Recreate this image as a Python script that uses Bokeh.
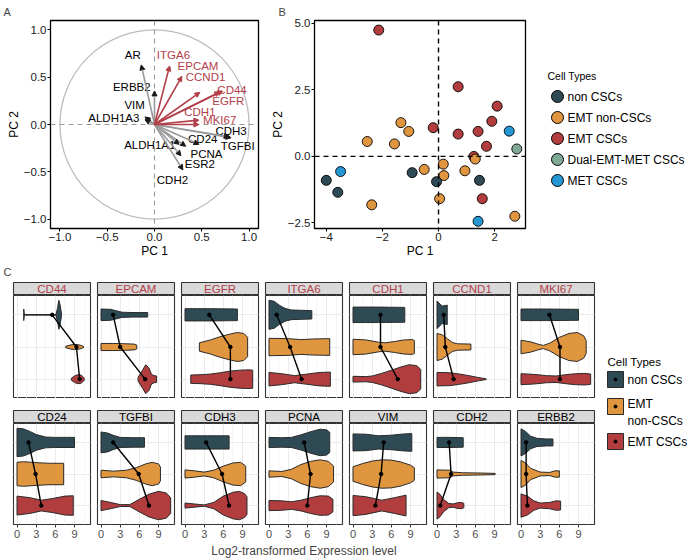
from bokeh.plotting import figure
from bokeh.layouts import row, column
from bokeh.models import (Range1d, FixedTicker, Span, Arrow, NormalHead, ColumnDataSource,
                          Label, Spacer, Grid, CustomJSTickFormatter)
from bokeh.embed import file_html
from bokeh.resources import INLINE
from bokeh.core.properties import value

FONT = "Liberation Sans"
RED_TEXT = "#B2404A"
GRAY_ARROW = "#9A9A9A"

# ---------------- Panel A: PCA loadings ----------------
LOAD_GENES = ["AR", "ERBB2", "VIM", "ALDH1A3", "ITGA6", "EPCAM", "CCND1", "CD44", "EGFR",
              "CDH1", "MKI67", "CDH3", "TGFBI", "CD24", "PCNA", "ALDH1A1", "ESR2", "CDH2"]
LOAD_PC1 = [-0.14, 0.00, -0.10, -0.10, 0.16, 0.29, 0.48, 0.72, 0.69,
            0.47, 0.47, 0.81, 0.79, 0.47, 0.33, 0.26, 0.28, 0.30]
LOAD_PC2 = [0.63, 0.355, 0.08, 0.05, 0.62, 0.51, 0.34, 0.355, 0.345,
            0.046, 0.0, -0.14, -0.13, -0.21, -0.23, -0.21, -0.33, -0.48]
LABEL_PC1 = [-0.23, -0.24, -0.21, -0.43, 0.20, 0.46, 0.54, 0.82, 0.78,
             0.48, 0.69, 0.81, 0.88, 0.51, 0.55, -0.05, 0.48, 0.19]
LABEL_PC2 = [0.73, 0.40, 0.21, 0.067, 0.73, 0.62, 0.50, 0.37, 0.25,
             0.13, 0.046, -0.067, -0.23, -0.15, -0.31, -0.22, -0.42, -0.59]
EMT_MARKERS = ["ITGA6", "EPCAM", "CCND1", "CD44", "EGFR", "CDH1", "MKI67"]
CIRCLE_RADIUS = 1.0

# ---------------- Panel B: PCA scores ----------------
CELL_TYPES = ["non CSCs", "EMT non-CSCs", "EMT CSCs", "Dual-EMT-MET CSCs", "MET CSCs"]
CELL_COLORS = ["#2E4A54", "#E0953F", "#B23D3E", "#7FA994", "#2697D5"]
SAMPLE_TYPE = (["EMT CSCs"] * 10 + ["EMT non-CSCs"] * 12 + ["non CSCs"] * 5
               + ["MET CSCs"] * 3 + ["Dual-EMT-MET CSCs"])
SAMPLE_PC1 = [-2.13, 0.70, -0.19, 0.70, 1.41, 2.09, 1.90, 1.71, 1.26, 1.56,
              -1.34, -1.06, -2.54, -1.57, -0.51, 0.17, 0.19, 0.04, 0.94, 1.31, -2.38, 2.72,
              -4.00, -3.59, -0.94, -0.07, 1.46,
              -3.49, 2.52, 1.41,
              2.79]
SAMPLE_PC2 = [4.75, 2.62, 1.08, 0.84, 0.94, 1.89, 1.32, 0.38, 0.00, -1.59,
              1.27, 0.94, 0.56, 0.47, -0.49, -0.29, -0.72, -1.59, -0.54, -0.10, -1.82, -2.25,
              -0.90, -1.35, -0.61, -0.95, -0.90,
              -0.57, 0.95, -2.44,
              0.28]

# ---------------- Panel C: violins ----------------
GROUPS = ["non CSCs", "EMT non-CSCs", "EMT CSCs"]
GROUP_LABELS = ["non CSCs", "EMT\nnon-CSCs", "EMT CSCs"]
GROUP_COLORS = ["#2E4A54", "#E0953F", "#B23D3E"]
GROUP_LEVEL = [3, 2, 1]
GENES_TOP = ["CD44", "EPCAM", "EGFR", "ITGA6", "CDH1", "CCND1", "MKI67"]
GENES_BOTTOM = ["CD24", "TGFBI", "CDH3", "PCNA", "VIM", "CDH2", "ERBB2"]
X_TICKS = [0, 3, 6, 9]
X_MINOR = [1.5, 4.5, 7.5, 10.5]

# (expression values, half widths)
VIOLIN_CD44 = {
    "non CSCs": ([1.05, 1.15, 6.1, 6.35, 6.55, 6.75, 6.95], [0.18, 0.01, 0.01, 0.22, 0.45, 0.30, 0.05]),
    "EMT non-CSCs": ([7.6, 8.3, 9.0, 9.6, 10.0, 10.4], [0.02, 0.06, 0.08, 0.07, 0.05, 0.02]),
    "EMT CSCs": ([8.5, 9.0, 9.5, 10.0, 10.3, 10.5], [0.03, 0.10, 0.14, 0.13, 0.08, 0.04]),
}
VIOLIN_EPCAM = {
    "non CSCs": ([0, 1.5, 2.5, 3.3, 5.0, 7.3], [0.18, 0.17, 0.12, 0.08, 0.07, 0.07]),
    "EMT non-CSCs": ([0, 2.0, 4.0, 5.2, 5.6], [0.11, 0.11, 0.10, 0.09, 0.06]),
    "EMT CSCs": ([5.8, 6.5, 7.0, 7.5, 7.9, 8.3, 8.7], [0.06, 0.28, 0.45, 0.35, 0.15, 0.11, 0.10]),
}
VIOLIN_EGFR = {
    "non CSCs": ([0, 4.0, 8.2], [0.19, 0.19, 0.18]),
    "EMT non-CSCs": ([2.25, 4.0, 5.5, 7.0, 8.2, 9.2, 9.8], [0.13, 0.22, 0.32, 0.40, 0.45, 0.42, 0.30]),
    "EMT CSCs": ([0.9, 2.5, 4.0, 5.5, 7.0, 8.5, 10.0, 10.6], [0.13, 0.14, 0.16, 0.20, 0.25, 0.28, 0.29, 0.28]),
}
VIOLIN_ITGA6 = {
    "non CSCs": ([0, 0.8, 1.6, 2.5, 3.5, 5.0, 6.7], [0.45, 0.42, 0.30, 0.20, 0.15, 0.14, 0.13]),
    "EMT non-CSCs": ([0, 3.0, 5.0, 7.0, 9.5], [0.27, 0.26, 0.23, 0.25, 0.26]),
    "EMT CSCs": ([0, 2.0, 4.0, 6.0, 8.0, 9.6], [0.21, 0.17, 0.11, 0.16, 0.21, 0.22]),
}
VIOLIN_CDH1 = {
    "non CSCs": ([0, 4.0, 8.1], [0.24, 0.24, 0.23]),
    "EMT non-CSCs": ([0, 2.0, 4.0, 5.0, 6.5, 8.0, 9.3, 9.6], [0.24, 0.22, 0.15, 0.13, 0.17, 0.22, 0.23, 0.20]),
    "EMT CSCs": ([0, 2.0, 3.0, 4.5, 6.0, 7.5, 8.8, 10.0, 10.6], [0.09, 0.08, 0.10, 0.18, 0.28, 0.38, 0.45, 0.42, 0.30]),
}
VIOLIN_CCND1 = {
    "non CSCs": ([0, 0.8, 1.6], [0.43, 0.27, 0.30]),
    "EMT non-CSCs": ([0, 0.8, 1.6, 2.4, 3.2, 5.3], [0.42, 0.38, 0.26, 0.14, 0.10, 0.09]),
    "EMT CSCs": ([0, 2.0, 3.5, 5.0, 6.5, 7.7], [0.21, 0.20, 0.16, 0.11, 0.05, 0.01]),
}
VIOLIN_MKI67 = {
    "non CSCs": ([0, 4.0, 9.0], [0.18, 0.18, 0.17]),
    "EMT non-CSCs": ([0, 1.5, 2.8, 3.5, 4.5, 6.0, 7.5, 8.8, 9.8, 10.2],
                     [0.21, 0.16, 0.08, 0.05, 0.12, 0.30, 0.42, 0.45, 0.35, 0.20]),
    "EMT CSCs": ([0, 2.0, 4.0, 5.5, 7.0, 8.5, 10.0, 10.9], [0.17, 0.15, 0.11, 0.10, 0.14, 0.17, 0.18, 0.16]),
}
VIOLIN_CD24 = {
    "non CSCs": ([0, 1.0, 2.0, 3.0, 4.5, 6.0, 9.0], [0.45, 0.43, 0.35, 0.25, 0.17, 0.16, 0.16]),
    "EMT non-CSCs": ([0, 1.0, 3.0, 5.0, 7.3], [0.37, 0.39, 0.36, 0.34, 0.34]),
    "EMT CSCs": ([0, 2.0, 3.8, 5.5, 7.5, 8.8], [0.30, 0.25, 0.17, 0.22, 0.30, 0.31]),
}
VIOLIN_TGFBI = {
    "non CSCs": ([0, 1.0, 2.0, 3.0, 5.0, 6.8], [0.33, 0.30, 0.22, 0.16, 0.15, 0.15]),
    "EMT non-CSCs": ([0, 2.0, 4.0, 5.5, 7.0, 8.0, 9.0, 9.3], [0.12, 0.09, 0.12, 0.20, 0.32, 0.37, 0.32, 0.22]),
    "EMT CSCs": ([0, 1.5, 3.0, 4.5, 6.0, 7.5, 9.0, 10.2, 10.9], [0.16, 0.10, 0.03, 0.03, 0.20, 0.36, 0.45, 0.40, 0.25]),
}
VIOLIN_CDH3 = {
    "non CSCs": ([0, 3.5, 6.9], [0.21, 0.21, 0.21]),
    "EMT non-CSCs": ([0, 1.5, 3.0, 4.5, 6.0, 7.5, 8.7, 9.5], [0.13, 0.10, 0.06, 0.12, 0.25, 0.35, 0.37, 0.25]),
    "EMT CSCs": ([0, 1.5, 3.0, 4.5, 6.0, 7.5, 8.5, 9.3, 9.7], [0.08, 0.05, 0.02, 0.10, 0.30, 0.42, 0.45, 0.38, 0.28]),
}
VIOLIN_PCNA = {
    "non CSCs": ([0, 2.0, 3.5, 5.0, 6.5, 8.0, 9.0, 9.5], [0.16, 0.15, 0.16, 0.24, 0.34, 0.42, 0.40, 0.32]),
    "EMT non-CSCs": ([0, 2.0, 3.5, 5.0, 6.5, 8.0, 9.3, 10.1], [0.10, 0.08, 0.15, 0.30, 0.40, 0.45, 0.40, 0.25]),
    "EMT CSCs": ([0, 2.0, 3.5, 5.0, 6.5, 8.0, 9.3, 10.0], [0.16, 0.15, 0.12, 0.17, 0.25, 0.31, 0.30, 0.20]),
}
VIOLIN_VIM = {
    "non CSCs": ([0, 2.0, 4.0, 6.0, 8.0, 9.2], [0.27, 0.26, 0.21, 0.23, 0.27, 0.28]),
    "EMT non-CSCs": ([0, 1.5, 3.0, 4.5, 6.0, 7.5, 9.0, 9.6], [0.23, 0.33, 0.41, 0.45, 0.44, 0.38, 0.28, 0.20]),
    "EMT CSCs": ([0, 2.0, 4.5, 6.5, 8.3], [0.32, 0.28, 0.17, 0.25, 0.33]),
}
VIOLIN_CDH2 = {
    "non CSCs": ([0, 2.0, 4.1], [0.16, 0.16, 0.15]),
    "EMT non-CSCs": ([0, 2.0, 2.5, 4.0, 7.0, 9.1], [0.13, 0.12, 0.06, 0.04, 0.03, 0.02]),
    "EMT CSCs": ([0, 0.5, 1.0, 1.8, 2.5, 3.2, 3.8, 4.2], [0.43, 0.35, 0.20, 0.07, 0.05, 0.09, 0.10, 0.07]),
}
VIOLIN_ERBB2 = {
    "non CSCs": ([0, 0.7, 1.5, 2.5, 4.0, 5.0], [0.43, 0.35, 0.20, 0.13, 0.11, 0.11]),
    "EMT non-CSCs": ([0, 0.7, 1.5, 3.0, 4.5, 5.3, 6.0], [0.43, 0.35, 0.18, 0.06, 0.05, 0.10, 0.10]),
    "EMT CSCs": ([0, 1.0, 2.0, 3.0, 4.5, 5.5, 6.2], [0.37, 0.30, 0.15, 0.08, 0.10, 0.15, 0.14]),
}
VIOLINS = {"CD44": VIOLIN_CD44, "EPCAM": VIOLIN_EPCAM, "EGFR": VIOLIN_EGFR, "ITGA6": VIOLIN_ITGA6,
           "CDH1": VIOLIN_CDH1, "CCND1": VIOLIN_CCND1, "MKI67": VIOLIN_MKI67, "CD24": VIOLIN_CD24,
           "TGFBI": VIOLIN_TGFBI, "CDH3": VIOLIN_CDH3, "PCNA": VIOLIN_PCNA, "VIM": VIOLIN_VIM,
           "CDH2": VIOLIN_CDH2, "ERBB2": VIOLIN_ERBB2}

GENES_C = GENES_TOP + GENES_BOTTOM
MEAN_NON_CSC = [5.5, 1.9, 3.8, 1.2, 4.3, 1.05, 4.45, 1.8, 1.9, 3.3, 5.5, 4.8, 1.9, 0.8]
MEAN_EMT_NON_CSC = [9.3, 3.0, 7.1, 3.3, 4.3, 1.3, 6.1, 2.9, 5.9, 5.8, 6.5, 4.4, 2.2, 0.8]
MEAN_EMT_CSC = [9.8, 6.9, 7.1, 5.1, 7.0, 2.6, 6.1, 3.8, 7.5, 6.9, 6.0, 3.5, 0.5, 1.0]

# ---------------- layout constants (pixels) ----------------
PAGE_W = 688
TOP_BT, TOP_FRAME, TOP_BB = 20, 208, 34
TOP_H = TOP_BT + TOP_FRAME + TOP_BB
A_W, B_W = 266, 267
C_H = 19
FACET_W, FIRST_EXTRA = 84, 8
STRIP_H = 14
PANEL1_H = 103
GAP_H = 11
PANEL2_H = 101
AXIS_H = 18
XT_H = 16


def new_fig(**kw):
    return figure(output_backend="svg", toolbar_location=None, **kw)


def blank(p):
    p.grid.visible = False
    p.outline_line_color = None


def style_axis(ax, label, ndigits):
    ax.axis_label = label
    ax.axis_label_text_font = FONT
    ax.axis_label_text_font_size = "12px"
    ax.axis_label_text_font_style = "normal"
    ax.axis_label_text_color = "black"
    ax.axis_label_standoff = 0
    ax.major_label_text_font = FONT
    ax.major_label_text_font_size = "11.5px"
    ax.major_label_text_color = "#1A1A1A"
    ax.major_label_standoff = 1
    ax.major_tick_out = 3
    ax.major_tick_in = 0
    ax.minor_tick_out = 0
    ax.minor_tick_in = 0
    ax.axis_line_color = None
    ax.major_tick_line_color = "black"
    ax.formatter = CustomJSTickFormatter(
        code="return tick.toFixed(%d).replace('-', '\\u2212');" % ndigits)


def panel_title(p, text, offset):
    p.title.text = text
    p.title.text_font = FONT
    p.title.text_font_size = "11px"
    p.title.text_font_style = "normal"
    p.title.align = "left"
    p.title.offset = offset
    p.title.standoff = 5


# ---------------- Panel A ----------------
pA = new_fig(width=A_W, height=TOP_H, x_range=Range1d(-1.1, 1.1), y_range=Range1d(-1.1, 1.1),
             min_border_left=50, min_border_right=8, min_border_top=TOP_BT, min_border_bottom=TOP_BB)
panel_title(pA, "A", -47)
pA.grid.visible = False
pA.outline_line_color = "black"
pA.outline_line_width = 1.3
style_axis(pA.xaxis[0], "PC 1", 1)
style_axis(pA.yaxis[0], "PC 2", 1)
pA.xaxis.ticker = FixedTicker(ticks=[-1, -0.5, 0, 0.5, 1])
pA.yaxis.ticker = FixedTicker(ticks=[-1, -0.5, 0, 0.5, 1])
pA.ellipse(x=[0], y=[0], width=[2 * CIRCLE_RADIUS], height=[2 * CIRCLE_RADIUS],
           fill_color=None, line_color="#BDBDBD", line_width=1.3)
pA.add_layout(Span(location=0, dimension="height", line_color="#9A9A9A", line_dash="5 4", line_width=1.1))
pA.add_layout(Span(location=0, dimension="width", line_color="#9A9A9A", line_dash="5 4", line_width=1.1))

is_red = [g in EMT_MARKERS for g in LOAD_GENES]
for red in (False, True):
    idx = [i for i, r in enumerate(is_red) if r == red]
    src = ColumnDataSource(dict(
        x=[LOAD_PC1[i] for i in idx], y=[LOAD_PC2[i] for i in idx],
        lx=[LABEL_PC1[i] for i in idx], ly=[LABEL_PC2[i] for i in idx],
        gene=[LOAD_GENES[i] for i in idx]))
    lc = "#B2404A" if red else GRAY_ARROW
    hc = "#B2404A" if red else "#1A1A1A"
    pA.add_layout(Arrow(end=NormalHead(size=5, line_color=hc, fill_color=hc, line_width=1),
                        x_start=0, y_start=0, x_end="x", y_end="y", source=src,
                        line_color=lc, line_width=1.6))
    pA.text(x="lx", y="ly", text="gene", source=src, text_align="center", text_baseline="middle",
            text_font=value(FONT), text_font_size="11.5px", text_color=RED_TEXT if red else "black")

# ---------------- Panel B ----------------
pB = new_fig(width=B_W, height=TOP_H, x_range=Range1d(-4.42, 3.1), y_range=Range1d(-2.71, 5.11),
             min_border_left=48, min_border_right=8, min_border_top=TOP_BT, min_border_bottom=TOP_BB)
panel_title(pB, "B", -36)
pB.grid.visible = False
pB.outline_line_color = "black"
pB.outline_line_width = 1.3
style_axis(pB.xaxis[0], "PC 1", 0)
style_axis(pB.yaxis[0], "PC 2", 1)
pB.xaxis.ticker = FixedTicker(ticks=[-4, -2, 0, 2])
pB.yaxis.ticker = FixedTicker(ticks=[-2.5, 0, 2.5, 5])
color_of = dict(zip(CELL_TYPES, CELL_COLORS))
pB.scatter(x=SAMPLE_PC1, y=SAMPLE_PC2, size=10, fill_color=[color_of[t] for t in SAMPLE_TYPE],
           line_color="black", line_width=0.9)
pB.add_layout(Span(location=0, dimension="height", line_color="black", line_dash="5 4", line_width=1.4))
pB.add_layout(Span(location=0, dimension="width", line_color="black", line_dash="5 4", line_width=1.4))

# legend B (y measured in pixels downward from the frame top)
LEGB_W = PAGE_W - A_W - B_W
LEGB_TITLE_Y, LEGB_ROW0, LEGB_STEP = 55, 76, 21
legB = new_fig(width=LEGB_W, height=TOP_H, x_range=Range1d(0, LEGB_W), y_range=Range1d(TOP_FRAME, 0),
               x_axis_location=None, y_axis_location=None,
               min_border_left=0, min_border_right=0, min_border_top=TOP_BT, min_border_bottom=TOP_BB)
blank(legB)
legB_y = [LEGB_ROW0 + LEGB_STEP * i for i in range(len(CELL_TYPES))]
legB.text(x=[14], y=[LEGB_TITLE_Y], text=["Cell Types"], text_baseline="middle",
          text_font=value(FONT), text_font_size="10.5px", text_color="black")
legB.scatter(x=24, y=legB_y, size=12, fill_color=CELL_COLORS, line_color="black", line_width=1)
legB.text(x=34, y=legB_y, text=CELL_TYPES, text_baseline="middle", text_font=value(FONT),
          text_font_size="12px", text_color="black")

top = row(pA, pB, legB)

# ---------------- Panel C ----------------
cfig = new_fig(width=PAGE_W, height=C_H, x_range=Range1d(0, 1), y_range=Range1d(0, 1),
               x_axis_location=None, y_axis_location=None, min_border=0)
blank(cfig)
cfig.add_layout(Label(x=3, y=C_H - 9, x_units="screen", y_units="screen", text="C", text_font=FONT,
                      text_font_size="11px", text_baseline="middle"))


def strip(gene, color, first):
    s = new_fig(width=FACET_W + (FIRST_EXTRA if first else 0), height=STRIP_H,
                x_range=Range1d(0, 1), y_range=Range1d(0, 1),
                x_axis_location=None, y_axis_location=None,
                min_border_left=5 + (FIRST_EXTRA if first else 0), min_border_right=2,
                min_border_top=1, min_border_bottom=0)
    s.grid.visible = False
    s.background_fill_color = "#D9D9D9"
    s.outline_line_color = "#333333"
    s.outline_line_width = 1.1
    s.text(x=[0.5], y=[0.5], text=[gene], text_align="center", text_baseline="middle",
           text_font=value(FONT), text_font_size="11.5px", text_color=color)
    return s


def violin_panel(gene, bottom, first):
    gi = GENES_C.index(gene)
    h = (PANEL2_H + AXIS_H) if bottom else PANEL1_H
    p = new_fig(width=FACET_W + (FIRST_EXTRA if first else 0), height=h,
                x_range=Range1d(-0.55, 11.5), y_range=Range1d(0.4, 3.6),
                x_axis_location="below" if bottom else None, y_axis_location=None,
                min_border_left=5 + (FIRST_EXTRA if first else 0), min_border_right=2, min_border_top=0,
                min_border_bottom=AXIS_H if bottom else 0)
    p.grid.visible = False
    p.add_layout(Grid(dimension=0, ticker=FixedTicker(ticks=X_TICKS, minor_ticks=X_MINOR),
                      grid_line_color="#EBEBEB", grid_line_width=1,
                      minor_grid_line_color="#F2F2F2", minor_grid_line_width=0.8))
    p.add_layout(Grid(dimension=1, ticker=FixedTicker(ticks=GROUP_LEVEL), grid_line_color="#EBEBEB",
                      grid_line_width=1))
    p.outline_line_color = "#333333"
    p.outline_line_width = 1.1
    xs, ys, cols = [], [], []
    for grp, lvl, col in zip(GROUPS, GROUP_LEVEL, GROUP_COLORS):
        vx, hw = VIOLINS[gene][grp]
        xs.append(list(vx) + list(reversed(vx)))
        ys.append([lvl + w for w in hw] + [lvl - w for w in reversed(hw)])
        cols.append(col)
    p.patches(xs=xs, ys=ys, fill_color=cols, line_color="#2B2B2B", line_width=1)
    means = [MEAN_NON_CSC[gi], MEAN_EMT_NON_CSC[gi], MEAN_EMT_CSC[gi]]
    p.line(x=means, y=GROUP_LEVEL, line_color="black", line_width=1.4)
    p.scatter(x=means, y=GROUP_LEVEL, size=3.5, color="black")
    if bottom:
        ax = p.xaxis[0]
        ax.ticker = FixedTicker(ticks=X_TICKS)
        ax.major_label_text_font = FONT
        ax.major_label_text_font_size = "11px"
        ax.major_label_text_color = "#4D4D4D"
        ax.major_label_standoff = 2
        ax.major_tick_out = 3
        ax.major_tick_in = 0
        ax.minor_tick_out = 0
        ax.axis_line_color = None
        ax.major_tick_line_color = "#333333"
    return p


strips1 = row(*[strip(g, RED_TEXT, i == 0) for i, g in enumerate(GENES_TOP)])
panels1 = row(*[violin_panel(g, False, i == 0) for i, g in enumerate(GENES_TOP)])
strips2 = row(*[strip(g, "black", i == 0) for i, g in enumerate(GENES_BOTTOM)])
panels2 = row(*[violin_panel(g, True, i == 0) for i, g in enumerate(GENES_BOTTOM)])
FACETS_W = 7 * FACET_W + FIRST_EXTRA
facets = column(strips1, panels1, Spacer(width=FACETS_W, height=GAP_H), strips2, panels2)

# legend C (y measured in pixels downward from the top of this block)
LEGC_H = STRIP_H + PANEL1_H + GAP_H + STRIP_H + PANEL2_H + AXIS_H
LEGC_W = PAGE_W - FACETS_W
LEGC_TITLE_Y = 80
LEGC_KEY_Y = [98, 125, 160]
LEGC_TEXT_Y = [98, 131, 160]
legC = new_fig(width=LEGC_W, height=LEGC_H, x_range=Range1d(0, LEGC_W), y_range=Range1d(LEGC_H, 0),
               x_axis_location=None, y_axis_location=None, min_border=0)
blank(legC)
legC.text(x=[11], y=[LEGC_TITLE_Y], text=["Cell Types"], text_baseline="middle",
          text_font=value(FONT), text_font_size="11.5px", text_color="black")
legC.rect(x=19, y=LEGC_KEY_Y, width=16, height=16, width_units="screen", height_units="screen",
          fill_color=GROUP_COLORS, line_color="#2B2B2B", line_width=1)
legC.scatter(x=19, y=LEGC_KEY_Y, size=3, color="black")
legC.text(x=31, y=LEGC_TEXT_Y, text=GROUP_LABELS, text_baseline="middle",
          text_font=value(FONT), text_font_size="12px", text_color="black", text_line_height=1.15)

xt = new_fig(width=PAGE_W, height=XT_H, x_range=Range1d(0, 1), y_range=Range1d(0, 1),
             x_axis_location=None, y_axis_location=None, min_border=0)
blank(xt)
xt.add_layout(Label(x=13 + (7 * FACET_W - 7) / 2, y=XT_H / 2, x_units="screen", y_units="screen",
                    text="Log2-transformed Expression level", text_align="center",
                    text_baseline="middle", text_font=FONT, text_font_size="12px"))

page = column(top, cfig, row(facets, legC), xt)

open("out.html", "w").write(file_html(page, INLINE))
